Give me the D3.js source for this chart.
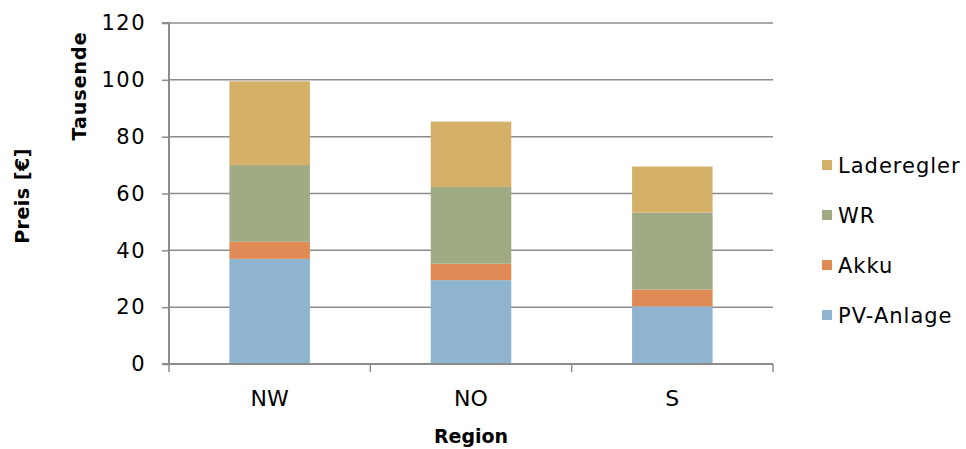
<!DOCTYPE html>
<html><head><meta charset="utf-8">
<script src="https://cdn.jsdelivr.net/npm/d3@7"></script>
<style>body{margin:0;background:#fff}svg{display:block}text{font-family:"DejaVu Sans",sans-serif;fill:#000}</style>
</head><body><svg id="c" width="966" height="449"></svg>
<script>
const categories = ["NW", "NO", "S"];
const seriesNames = ["PV-Anlage", "Akku", "WR", "Laderegler"];
const pvAnlage = [37, 29.5, 20.3];
const akku = [6, 5.8, 5.9];
const wr = [27, 27, 27.1];
const laderegler = [29.5, 23, 16.2];
const yTicks = [0, 20, 40, 60, 80, 100, 120];
const colors = ["#8EB4D0", "#E08A55", "#A0AA84", "#D4B068"];

const svg = d3.select("#c");
const m = {left:169, right:773, top:23, bottom:364};
const x = d3.scaleBand().domain(categories).range([m.left, m.right]).paddingInner(0.6).paddingOuter(0.3);
const xb = d3.scaleBand().domain(categories).range([m.left, m.right]);
const y = d3.scaleLinear().domain([0,120]).range([m.bottom, m.top]);

const rows = categories.map((c,i)=>({cat:c, "PV-Anlage":pvAnlage[i], "Akku":akku[i], "WR":wr[i], "Laderegler":laderegler[i]}));
const stack = d3.stack().keys(seriesNames)(rows);

// gridlines
svg.append("g").selectAll("line").data(yTicks.filter(t=>t>0)).join("line")
  .attr("x1", m.left).attr("x2", m.right).attr("y1", d=>y(d)).attr("y2", d=>y(d))
  .attr("stroke", "#8c8c8c").attr("stroke-width", 1.5);

// bars
svg.append("g").selectAll("g").data(stack).join("g").attr("fill",(d,i)=>colors[i])
  .selectAll("rect").data(d=>d).join("rect")
  .attr("x", d=>x(d.data.cat)).attr("width", x.bandwidth())
  .attr("y", d=>y(d[1])).attr("height", d=>y(d[0])-y(d[1]));

// y axis
const ya = svg.append("g").attr("transform", `translate(${m.left},0)`)
  .call(d3.axisLeft(y).tickValues(yTicks).tickSize(7).tickPadding(16));
ya.select(".domain").attr("stroke","#8c8c8c").attr("stroke-width",2);
ya.selectAll(".tick line").attr("stroke","#8c8c8c").attr("stroke-width",1.5);
ya.selectAll(".tick text").attr("font-size",21).style("font-family","DejaVu Sans").style("letter-spacing","1.5px").attr("fill","#000");
ya.select(".domain").attr("d", `M-7,${m.bottom}H0V${m.top}H-7`);

// x axis
const xa = svg.append("g").attr("transform", `translate(0,${m.bottom})`);
xa.append("line").attr("x1", m.left).attr("x2", m.right).attr("stroke","#8c8c8c").attr("stroke-width",2);
xa.selectAll("line.t").data(d3.range(categories.length+1)).join("line").attr("class","t")
  .attr("x1", i=>m.left + i*xb.step()).attr("x2", i=>m.left + i*xb.step())
  .attr("y1",0).attr("y2",8).attr("stroke","#8c8c8c").attr("stroke-width",1.5);
xa.selectAll("text").data(categories).join("text")
  .attr("x", d=>xb(d)+xb.bandwidth()/2).attr("y", 42).attr("text-anchor","middle")
  .attr("font-size",22).text(d=>d);

// axis titles
svg.append("text").attr("transform","translate(471,443)").attr("text-anchor","middle")
  .attr("font-size",19).attr("font-weight","bold").text("Region");
svg.append("text").attr("transform","translate(86,86) rotate(-90)").attr("text-anchor","middle")
  .attr("font-size",19).attr("font-weight","bold").style("letter-spacing","1px").text("Tausende");
svg.append("text").attr("transform","translate(29,196) rotate(-90)").attr("text-anchor","middle")
  .attr("font-size",19).attr("font-weight","bold").style("letter-spacing","0.5px").text("Preis [€]");

// legend
const legendOrder = ["Laderegler","WR","Akku","PV-Anlage"];
const lg = svg.append("g").selectAll("g").data(legendOrder).join("g")
  .attr("transform",(d,i)=>`translate(822,${165+i*50})`);
lg.append("rect").attr("x",0).attr("y",-5).attr("width",10).attr("height",10)
  .attr("fill", d=>colors[seriesNames.indexOf(d)]);
lg.append("text").attr("x",16).attr("y",8).attr("font-size",21).style("letter-spacing","1px").text(d=>d);
</script></body></html>
